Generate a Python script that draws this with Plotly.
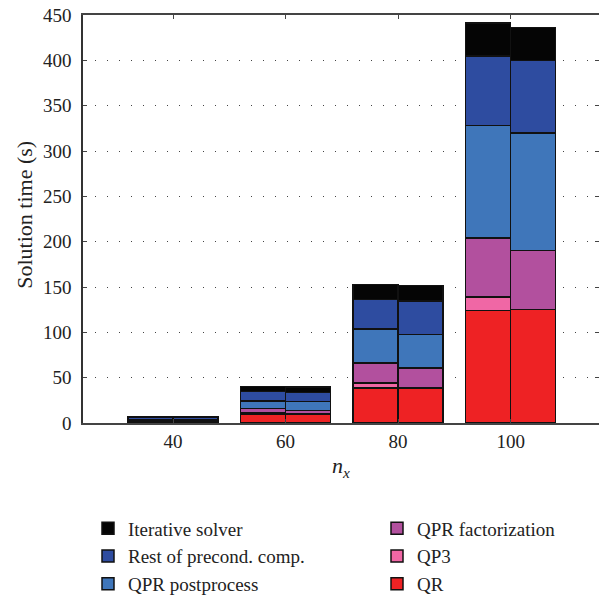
import plotly.graph_objects as go

# bar positions (two bars per n_x group)
x_pos = [36, 44, 56, 64, 76, 84, 96, 104]
group_ticks = [40, 60, 80, 100]
group_labels = ["40", "60", "80", "100"]

qr = [1.2, 1.3, 9.3, 9.7, 38.5, 38.7, 124, 125]
qp3 = [0.3, 0.0, 1.7, 0.0, 5.5, 0.0, 15, 0.0]
qpr_fact = [0.8, 0.8, 5.0, 4.0, 22, 22, 65, 65]
qpr_post = [1.5, 1.6, 8.5, 9.9, 37.5, 37, 124, 130]
rest_precond = [2.0, 2.1, 10.3, 10.0, 32.5, 37, 77, 80]
iterative = [1.2, 1.2, 5.5, 6.0, 16.5, 17, 36, 36]

# (name, values, colour, legend column)
series = [
    ("QR", qr, "#EE2224", "legend2"),
    ("QP3", qp3, "#F067A5", "legend2"),
    ("QPR factorization", qpr_fact, "#B2509E", "legend2"),
    ("QPR postprocess", qpr_post, "#3F76BA", "legend"),
    ("Rest of precond. comp.", rest_precond, "#2E4CA0", "legend"),
    ("Iterative solver", iterative, "#050505", "legend"),
]

FONT = "Liberation Serif"
TXT = "#222222"

W, H = 599, 597
ML, MT, MR, MB = 83, 15, 0, 173.5
PW, PH = W - ML - MR, H - MT - MB

fig = go.Figure()
for name, vals, color, leg in series:
    fig.add_trace(go.Bar(
        x=x_pos, y=vals, width=8, name=name,
        marker=dict(color=color, line=dict(color="#111111", width=1.5)),
        legend=leg, legendgroup=name,
    ))

leg_common = dict(
    orientation="v", yanchor="top", xanchor="left", traceorder="reversed",
    font=dict(family=FONT, size=19, color=TXT),
    tracegroupgap=0, itemwidth=30, bgcolor="rgba(0,0,0,0)",
)
leg_top = (H - MB - 510) / PH

fig.update_layout(
    width=W, height=H,
    barmode="stack",
    plot_bgcolor="white", paper_bgcolor="white",
    margin=dict(l=ML, r=MR, t=MT, b=MB, autoexpand=False),
    font=dict(family=FONT, size=18, color=TXT),
    showlegend=True,
    legend=dict(x=(88 - ML) / PW, y=leg_top, **leg_common),
    legend2=dict(x=(377 - ML) / PW, y=leg_top, **leg_common),
)

# axis titles placed as text annotations (page positions from the reference)
fig.add_annotation(
    text="<i>n<sub>x</sub></i>", xref="paper", yref="paper",
    x=(341 - ML) / PW, y=(H - MB - 468) / PH, xanchor="center", yanchor="middle",
    showarrow=False, font=dict(family=FONT, size=22, color=TXT),
)
fig.add_annotation(
    text="Solution time (s)", xref="paper", yref="paper", textangle=-90,
    x=(25 - ML) / PW, y=(H - MB - 215) / PH, xanchor="center", yanchor="middle",
    showarrow=False, font=dict(family=FONT, size=22, color=TXT),
)

fig.update_xaxes(
    range=[24, 115.7], automargin=False,
    tickvals=group_ticks, ticktext=group_labels,
    showgrid=False, zeroline=False,
    showline=True, linecolor="#444444", linewidth=1.5,
    mirror="ticks", ticks="inside", ticklen=4, tickcolor="#444444",
    tickfont=dict(family=FONT, size=19, color=TXT),
)
fig.update_yaxes(
    range=[0, 450], dtick=50, automargin=False,
    showgrid=True, gridcolor="#444444", gridwidth=1.2, griddash="1px,11px",
    zeroline=False,
    showline=True, linecolor="#333333", linewidth=1.5,
    mirror="ticks", ticks="inside", ticklen=4, tickcolor="#444444",
    ticklabelstandoff=6,
    tickfont=dict(family=FONT, size=19, color=TXT),
)

fig.write_html(
    "out.html",
    config={"displayModeBar": False},
    post_script="document.body.style.margin='0';",
)
